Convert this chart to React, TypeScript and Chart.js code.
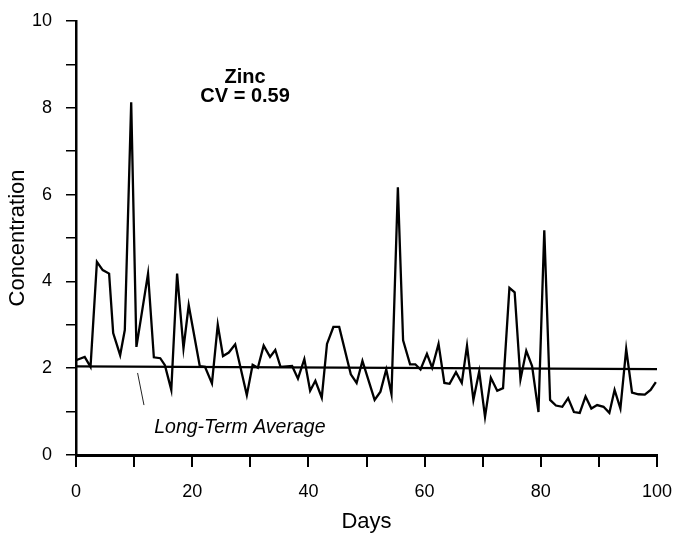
import React, { useEffect, useRef } from "react";
import { Chart, registerables } from "chart.js";

Chart.register(...registerables);

const days = [
  0.1, 1.5, 2.5, 3.6, 4.6, 5.7, 6.4, 7.6, 8.4, 9.5, 10.4, 12.4, 13.4, 14.5, 15.3, 16.4, 17.4, 18.5, 19.4,
  21.3, 22.2, 23.4, 24.4, 25.3, 26.3, 27.4, 29.4, 30.4, 31.3, 32.3, 33.4, 34.3, 35.2, 37.2, 38.2, 39.3,
  40.3, 41.2, 42.3, 43.2, 44.3, 45.3, 47.3, 48.3, 49.3, 51.4, 52.4, 53.4, 54.3, 55.4, 56.3, 57.5, 58.4,
  59.3, 60.4, 61.3, 62.4, 63.4, 64.3, 65.4, 66.4, 67.3, 68.4, 69.4, 70.4, 71.4, 72.5, 73.5, 74.6, 75.5,
  76.5, 77.5, 78.5, 79.6, 80.6, 81.6, 82.6, 83.7, 84.7, 85.7, 86.7, 87.7, 88.7, 89.7, 90.8, 91.8, 92.7,
  93.7, 94.7, 95.7, 96.8, 97.9, 98.9, 99.8,
];
const concentration = [
  2.19, 2.26, 2.03, 4.45, 4.26, 4.18, 2.81, 2.3, 2.88, 8.13, 2.49, 4.18, 2.25, 2.23, 2.07, 1.5, 4.18, 2.46, 3.45,
  2.05, 2.03, 1.65, 3.0, 2.28, 2.36, 2.55, 1.38, 2.08, 2.01, 2.52, 2.26, 2.42, 2.03, 2.05, 1.76, 2.21,
  1.48, 1.71, 1.32, 2.56, 2.95, 2.95, 1.86, 1.66, 2.17, 1.27, 1.46, 1.97, 1.4, 6.17, 2.64, 2.09, 2.09,
  1.97, 2.33, 2.01, 2.56, 1.66, 1.64, 1.91, 1.66, 2.52, 1.27, 1.93, 0.88, 1.78, 1.48, 1.54, 3.85, 3.75,
  1.74, 2.4, 2.05, 0.99, 5.18, 1.27, 1.14, 1.11, 1.31, 0.99, 0.97, 1.35, 1.07, 1.15, 1.11, 0.97, 1.5,
  1.07, 2.44, 1.44, 1.4, 1.39, 1.5, 1.68,
];
const averageDays = [0, 100];
const averageValues = [2.04, 1.98];
const leaderDays = [10.6, 11.7];
const leaderValues = [1.89, 1.15];

const yTicks = [0, 2, 4, 6, 8, 10];
const xTicks = [0, 20, 40, 60, 80, 100];

const titleLines = ["Zinc", "CV = 0.59"];
const titleAnchor = { day: 29.1, values: [8.69, 8.26] };
const averageLabel = "Long-Term Average";
const averageLabelAnchor = { day: 28.2, value: 0.64 };

const FONT = "'Liberation Sans', Arial, Helvetica, sans-serif";

const textPlugin = {
  id: "annotText",
  afterDatasetsDraw(chart: any) {
    const { ctx, scales } = chart;
    const x = scales.x;
    const y = scales.y;
    ctx.save();
    ctx.fillStyle = "#000";
    ctx.textAlign = "center";
    ctx.textBaseline = "middle";
    ctx.font = `bold 20px ${FONT}`;
    titleLines.forEach((t, i) => {
      ctx.fillText(t, x.getPixelForValue(titleAnchor.day), y.getPixelForValue(titleAnchor.values[i]));
    });
    ctx.font = `italic 19.5px ${FONT}`;
    ctx.fillText(
      averageLabel,
      x.getPixelForValue(averageLabelAnchor.day),
      y.getPixelForValue(averageLabelAnchor.value)
    );
    ctx.restore();
  },
};

export default function App() {
  const ref = useRef<HTMLCanvasElement | null>(null);
  useEffect(() => {
    document.body.style.margin = "0";
    const canvas = ref.current;
    if (!canvas) return;
    const chart = new Chart(canvas, {
      type: "line",
      data: {
        datasets: [
          {
            data: days.map((d, i) => ({ x: d, y: concentration[i] })),
            borderColor: "#000",
            borderWidth: 2.3,
            pointRadius: 0,
            tension: 0,
          },
          {
            data: averageDays.map((d, i) => ({ x: d, y: averageValues[i] })),
            borderColor: "#000",
            borderWidth: 2.2,
            pointRadius: 0,
          },
          {
            data: leaderDays.map((d, i) => ({ x: d, y: leaderValues[i] })),
            borderColor: "#222",
            borderWidth: 1,
            pointRadius: 0,
          },
        ],
      },
      options: {
        animation: false,
        responsive: false,
        devicePixelRatio: 1,
        layout: { padding: { top: 21, right: 21, left: 0, bottom: 0 } },
        plugins: { legend: { display: false }, tooltip: { enabled: false } },
        scales: {
          x: {
            type: "linear",
            min: 0,
            max: 100,
            afterFit: (s: any) => {
              s.height = 80;
              s.paddingLeft = 0;
              s.paddingRight = 0;
            },
            afterBuildTicks: (s: any) => {
              const t: any[] = [];
              for (let v = 0; v <= 100; v += 10) t.push({ value: v });
              s.ticks = t;
            },
            ticks: {
              autoSkip: false,
              maxRotation: 0,
              padding: 14,
              color: "#000",
              font: { family: FONT, size: 18 },
              callback: (v: any) => (xTicks.includes(Number(v)) ? String(v) : ""),
            },
            grid: {
              drawOnChartArea: false,
              drawTicks: true,
              tickLength: 12,
              color: "#000",
              lineWidth: 2,
            },
            border: { display: true, color: "#000", width: 3 },
            title: {
              display: true,
              text: "Days",
              color: "#000",
              font: { family: FONT, size: 22 },
              padding: { top: 0, bottom: 0 },
            },
          },
          y: {
            type: "linear",
            min: 0,
            max: 10,
            afterFit: (s: any) => {
              s.width = 76;
              s.paddingTop = 0;
              s.paddingBottom = 0;
            },
            afterBuildTicks: (s: any) => {
              const t: any[] = [];
              for (let v = 0; v <= 10; v += 1) t.push({ value: v });
              s.ticks = t;
            },
            ticks: {
              autoSkip: false,
              padding: 14,
              color: "#000",
              font: { family: FONT, size: 18 },
              callback: (v: any) => (yTicks.includes(Number(v)) ? String(v) : ""),
            },
            grid: {
              drawOnChartArea: false,
              drawTicks: true,
              tickLength: 10,
              color: "#000",
              lineWidth: 1.5,
            },
            border: { display: true, color: "#000", width: 2.5 },
            title: {
              display: true,
              text: "Concentration",
              color: "#000",
              font: { family: FONT, size: 22 },
              padding: { top: 5, bottom: 0 },
            },
          },
        },
      },
      plugins: [textPlugin],
    } as any);
    return () => chart.destroy();
  }, []);
  return (
    <div style={{ position: "absolute", left: 0, top: 0, width: 678, height: 535, background: "#fff" }}>
      <canvas ref={ref} width={678} height={535} style={{ width: 678, height: 535, display: "block" }} />
    </div>
  );
}
